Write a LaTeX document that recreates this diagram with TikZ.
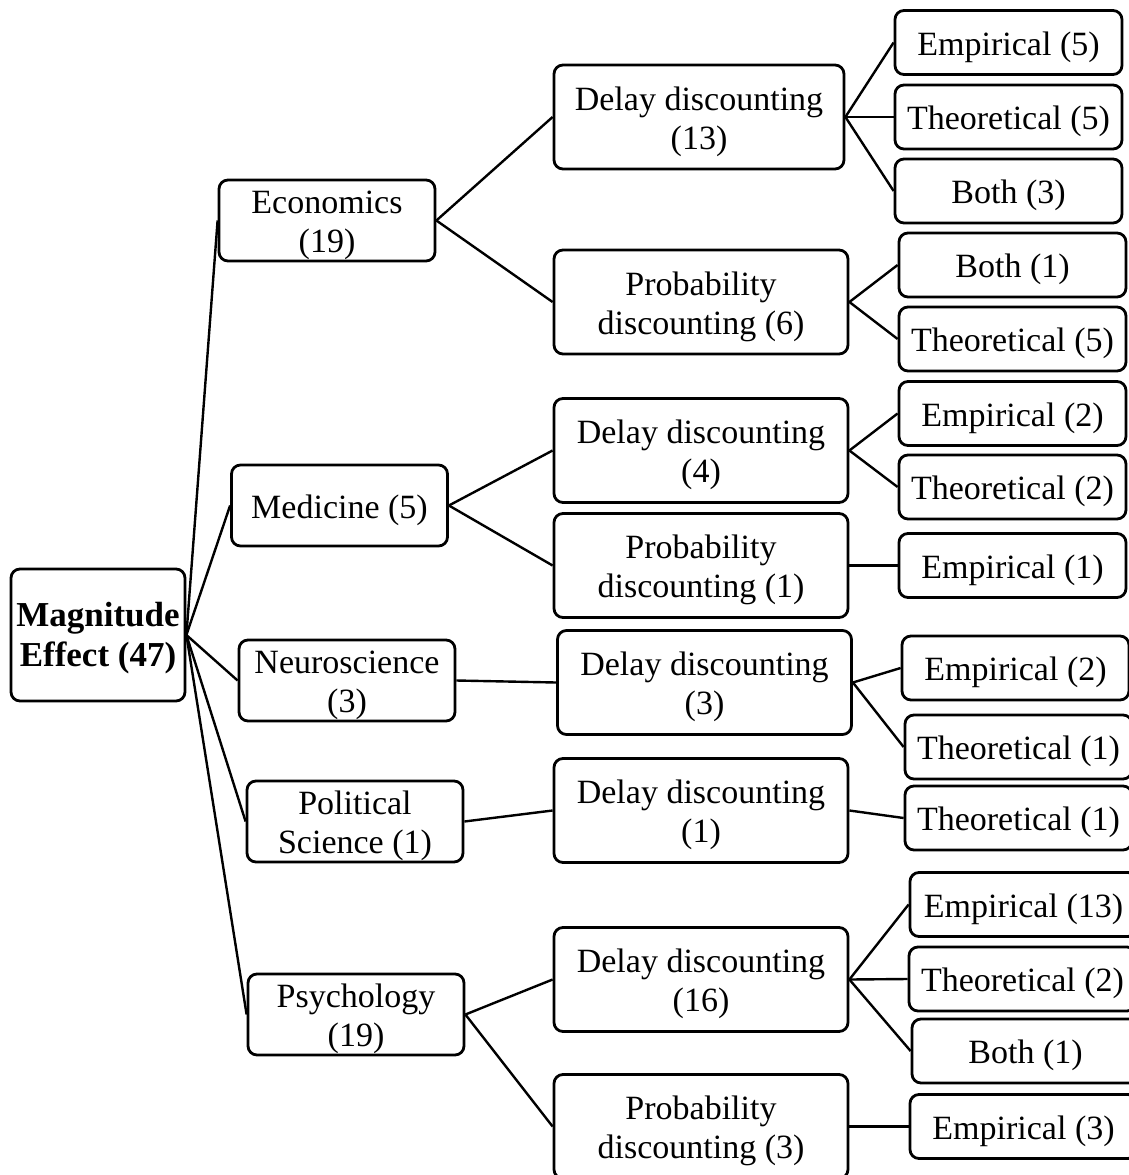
\documentclass[tikz,border=0pt]{standalone}
\usepackage{fontspec}
\setmainfont{Liberation Serif}
% a framed box (named #2) with its centred text (named #2-t), set a little low
\newcommand\boxnode[4]{%
  \node[#1] (#2) at (#3) {};
  \node[txt] (#2-t) at ([yshift=-4.5pt]#2.center) {#4};}
\begin{document}
\begin{tikzpicture}[x=1pt,y=-1pt,
  box/.style={draw, rounded corners=9pt, line width=2.8pt, fill=white, inner sep=0pt},
  txt/.style={inner sep=0pt, align=center, font=\fontsize{34}{39}\selectfont},
  rootbox/.style={box, minimum width=174pt, minimum height=132pt},
  lvlone/.style={box, minimum width=216pt, minimum height=81pt},
  lvltwo/.style={box, minimum width=294pt, minimum height=104pt},
  lvlthree/.style={box, minimum width=227pt, minimum height=64pt},
  link/.style={line width=2.4pt}]
\useasboundingbox (0,0) rectangle (1129,1175);
\clip (0,0) rectangle (1129,1175);

% root
\node[rootbox] (root) at (98,635) {};
\node[txt, font=\fontsize{35}{40}\selectfont\bfseries] (root-t) at ([yshift=-3.5pt]root.center)
  {Magnitude\\Effect (47)};

% fields
\boxnode{lvlone}{econ}{327,220.5}{Economics\\(19)}
\boxnode{lvlone}{med}{339.5,505.5}{Medicine (5)}
\boxnode{lvlone}{neuro}{347,680.5}{Neuroscience\\(3)}
\boxnode{lvlone}{pol}{355,821.5}{Political\\Science (1)}
\boxnode{lvlone}{psy}{356,1014.5}{Psychology\\(19)}

% discounting types
\boxnode{lvltwo, minimum width=290pt}{d13}{699,117}{Delay discounting\\(13)}
\boxnode{lvltwo}{p6}{701,302}{Probability\\discounting (6)}
\boxnode{lvltwo}{d4}{701,450.5}{Delay discounting\\(4)}
\boxnode{lvltwo}{p1}{701,565.5}{Probability\\discounting (1)}
\boxnode{lvltwo}{d3}{704.5,682.5}{Delay discounting\\(3)}
\boxnode{lvltwo}{d1}{701,810.5}{Delay discounting\\(1)}
\boxnode{lvltwo}{d16}{701,979.5}{Delay discounting\\(16)}
\boxnode{lvltwo}{p3}{701,1126.5}{Probability\\discounting (3)}

% study kinds
\boxnode{lvlthree}{e5}{1008.5,42.5}{Empirical (5)}
\boxnode{lvlthree}{t5}{1008.5,117}{Theoretical (5)}
\boxnode{lvlthree}{b3}{1008.5,191}{Both (3)}
\boxnode{lvlthree}{b1}{1012.5,265}{Both (1)}
\boxnode{lvlthree}{t5b}{1012.5,339}{Theoretical (5)}
\boxnode{lvlthree}{e2}{1012.5,413.5}{Empirical (2)}
\boxnode{lvlthree}{t2}{1012.5,487}{Theoretical (2)}
\boxnode{lvlthree}{e1}{1012.5,565.5}{Empirical (1)}
\boxnode{lvlthree}{e2b}{1015.5,668}{Empirical (2)}
\boxnode{lvlthree}{t1}{1018.5,747}{Theoretical (1)}
\boxnode{lvlthree}{t1b}{1018.5,818}{Theoretical (1)}
\boxnode{lvlthree}{e13}{1023.5,904.5}{Empirical (13)}
\boxnode{lvlthree}{t2b}{1022.5,979}{Theoretical (2)}
\boxnode{lvlthree}{b1b}{1025.5,1051}{Both (1)}
\boxnode{lvlthree}{e3}{1023.5,1126.5}{Empirical (3)}

% connectors
\foreach \n in {econ,med,neuro,pol,psy}
  \draw[link] (root.east) -- (\n.west);
\draw[link] (econ.east) -- (d13.west);
\draw[link] (econ.east) -- (p6.west);
\draw[link] (med.east) -- (d4.west);
\draw[link] (med.east) -- (p1.west);
\draw[link] (neuro.east) -- (d3.west);
\draw[link] (pol.east) -- (d1.west);
\draw[link] (psy.east) -- (d16.west);
\draw[link] (psy.east) -- (p3.west);
\foreach \n in {e5,t5,b3} \draw[link] (d13.east) -- (\n.west);
\foreach \n in {b1,t5b} \draw[link] (p6.east) -- (\n.west);
\foreach \n in {e2,t2} \draw[link] (d4.east) -- (\n.west);
\draw[link] (p1.east) -- (e1.west);
\foreach \n in {e2b,t1} \draw[link] (d3.east) -- (\n.west);
\draw[link] (d1.east) -- (t1b.west);
\foreach \n in {e13,t2b,b1b} \draw[link] (d16.east) -- (\n.west);
\draw[link] (p3.east) -- (e3.west);
\end{tikzpicture}
\end{document}
